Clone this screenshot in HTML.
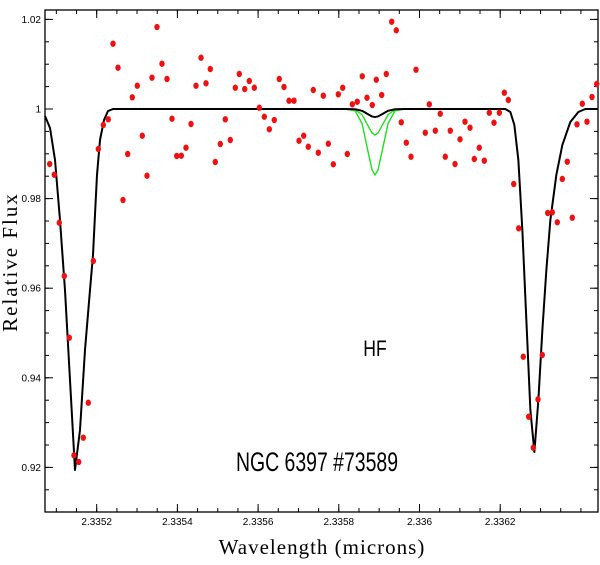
<!DOCTYPE html>
<html><head><meta charset="utf-8"><style>
html,body{margin:0;padding:0;background:#fff;width:600px;height:565px;overflow:hidden}
svg{display:block}
</style></head><body>
<svg id="chart" width="600" height="565" xmlns="http://www.w3.org/2000/svg">
<g id="axes"></g>
<g id="series"></g>
<text x="375" y="356" text-anchor="middle" font-family="Liberation Sans, sans-serif" font-size="22" transform="translate(375,0) scale(0.8,1) translate(-375,0)">HF</text>
<text x="317" y="471" text-anchor="middle" font-family="Liberation Sans, sans-serif" font-size="27" transform="translate(317,0) scale(0.72,1) translate(-317,0)">NGC 6397 #73589</text>
<text x="322" y="554" text-anchor="middle" font-family="Liberation Serif, serif" font-size="21" letter-spacing="1">Wavelength (microns)</text>
<text x="0" y="0" text-anchor="middle" font-family="Liberation Serif, serif" font-size="21" letter-spacing="2" transform="translate(17,262) rotate(-90)">Relative Flux</text>
</svg>
<script>
const xTicks=[2.3352,2.3354,2.3356,2.3358,2.336,2.3362];
const xTickLabels=["2.3352","2.3354","2.3356","2.3358","2.336","2.3362"];
const yTicks=[0.92,0.94,0.96,0.98,1.0,1.02];
const yTickLabels=["0.92","0.94","0.96","0.98","1","1.02"];
const obsWave=[2.3350835,2.3350949,2.3351073,2.3351197,2.3351321,2.3351437,2.3351554,2.3351668,2.3351792,2.3351916,2.335204,2.3352164,2.3352287,2.3352404,2.3352528,2.3352652,2.3352768,2.3352882,2.3353006,2.335313,2.3353247,2.335337,2.3353494,2.3353618,2.3353742,2.3353866,2.3353983,2.3354097,2.3354213,2.3354337,2.3354461,2.3354585,2.3354709,2.3354815,2.3354939,2.3355063,2.3355187,2.3355311,2.3355435,2.3355534,2.3355668,2.3355782,2.3355906,2.335603,2.3356154,2.3356278,2.3356401,2.3356525,2.3356642,2.3356766,2.335689,2.3357014,2.335713,2.3357244,2.3357368,2.3357492,2.3357616,2.335774,2.3357864,2.3357988,2.3358097,2.3358211,2.3358335,2.3358458,2.3358582,2.3358699,2.335883,2.3358929,2.3359063,2.3359177,2.3359311,2.3359425,2.3359549,2.3359673,2.3359789,2.3359913,2.3360144,2.3360243,2.3360392,2.3360515,2.3360639,2.3360763,2.336088,2.3361004,2.3361128,2.3361252,2.3361358,2.3361482,2.3361606,2.336173,2.3361846,2.3361978,2.3362102,2.3362201,2.3362335,2.3362458,2.3362572,2.3362706,2.336282,2.3362937,2.3363043,2.3363177,2.3363291,2.3363415,2.3363539,2.3363663,2.3363787,2.3363903,2.3364035,2.3364151,2.3364275,2.3364392];
const obsFlux=[0.98772,0.98534,0.97462,0.96272,0.94895,0.9227,0.92121,0.92663,0.93444,0.96607,0.99107,0.99643,0.9977,1.01458,1.00922,0.97969,0.98996,1.00261,1.0052,0.99404,0.98511,1.00699,1.0183,1.01011,1.0067,0.99783,0.98951,0.98958,0.99136,0.99665,1.0052,1.01145,1.00574,1.00893,0.98817,0.99219,0.9977,0.99308,1.00475,1.00781,1.00446,1.00625,1.00475,1.00029,0.99828,0.99547,0.99754,1.0067,1.00491,1.00185,1.00185,0.99292,0.99404,0.99158,1.00424,0.99025,1.00297,0.99225,0.98766,1.00328,1.00475,0.98996,1.00105,1.00163,1.0073,1.00252,1.00089,1.00654,1.00312,1.00781,1.01949,1.01757,0.99703,0.99248,0.98935,1.00877,0.99471,1.00105,0.99516,0.99895,0.98935,0.99516,0.98772,0.99324,0.99717,0.99583,0.98884,0.99136,0.98846,0.99917,0.99694,0.99917,1.00364,1.00201,0.98326,0.97337,0.94471,0.93132,0.9244,0.9352,0.94509,0.97679,0.97694,0.97471,0.98438,0.98824,0.97574,0.99658,1.00118,0.99717,1.00268,1.00558];
const modelWave=[2.3350719,2.3350843,2.3350967,2.335109,2.3351214,2.3351338,2.3351462,2.3351586,2.335171,2.3351834,2.3351908,2.3352007,2.3352082,2.3352181,2.335228,2.3352404,2.3358155,2.3358403,2.3358577,2.3358725,2.3358824,2.3358897,2.3358972,2.3359071,2.335922,2.3359393,2.335964,2.3362128,2.3362252,2.3362351,2.336245,2.3362549,2.3362648,2.3362748,2.3362847,2.3362946,2.3363045,2.3363144,2.3363243,2.3363391,2.336354,2.3363738,2.3363937,2.336411,2.3364433];
const modelFlux=[0.99844,0.99576,0.98862,0.97522,0.9596,0.93951,0.91942,0.92835,0.94621,0.9596,0.96741,0.98527,0.99308,0.99754,0.99955,1,1,0.99995,0.9996,0.99884,0.99834,0.9982,0.99834,0.99884,0.9996,0.99995,1,1,0.99933,0.99643,0.98862,0.97299,0.9529,0.93281,0.92344,0.93504,0.95067,0.96406,0.97522,0.98527,0.99196,0.9971,0.99933,1,1];
const hfWave=[2.3358155,2.3358403,2.3358577,2.3358725,2.3358824,2.3358897,2.3358972,2.3359071,2.335922,2.3359393,2.335964];
const hfFluxLow=[1,0.99984,0.99872,0.99625,0.99465,0.9942,0.99465,0.99625,0.99872,0.99984,1];
const hfFluxHigh=[1,0.9996,0.99676,0.99047,0.9864,0.9853,0.9864,0.99047,0.99676,0.9996,1];

const L=45,R=598,T=10,B=512;
const X0=2.3352,XPX0=96.7,XPX_PER=80.7/0.0002;
const YPX1=109,YPX_PER=89.6/0.02;
function xs(v){return XPX0+(v-X0)*XPX_PER;}
function ys(v){return YPX1-(v-1)*YPX_PER;}
const NS="http://www.w3.org/2000/svg";
const axes=document.getElementById('axes');
const series=document.getElementById('series');
function mk(tag,attrs,parent){const e=document.createElementNS(NS,tag);for(const k in attrs)e.setAttribute(k,attrs[k]);parent.appendChild(e);return e;}

const frame=mk('rect',{x:L,y:T,width:R-L,height:B-T,fill:'none',stroke:'#000','stroke-width':1.3},axes);



// x ticks
for(let i=0;i<xTicks.length;i++){
  const x=xs(xTicks[i]);
  const t1=mk('line',{x1:x,x2:x,y1:B,y2:B-8,stroke:'#000','stroke-width':1},axes);
  
  
  const t2=mk('line',{x1:x,x2:x,y1:T,y2:T+8,stroke:'#000','stroke-width':1},axes);
  
  
  const lb=mk('text',{x:x,y:525,'text-anchor':'middle','font-family':'Liberation Sans, sans-serif','font-size':10},axes);
  lb.textContent=xTickLabels[i];
  
  
}
const xStep=0.00005;
for(let v=2.3351;v<2.33645;v+=xStep){
  const x=xs(v);if(x<=L||x>=R)continue;
  const m1=mk('line',{x1:x,x2:x,y1:B,y2:B-4,stroke:'#000','stroke-width':1},axes);
  
  
  const m2=mk('line',{x1:x,x2:x,y1:T,y2:T+4,stroke:'#000','stroke-width':1},axes);
  
  
}
// y ticks
for(let i=0;i<yTicks.length;i++){
  const y=ys(yTicks[i]);
  const t1=mk('line',{x1:L,x2:L+8,y1:y,y2:y,stroke:'#000','stroke-width':1},axes);
  
  
  const t2=mk('line',{x1:R,x2:R-8,y1:y,y2:y,stroke:'#000','stroke-width':1},axes);
  
  
  const lb=mk('text',{x:41,y:y+3.5,'text-anchor':'end','font-family':'Liberation Sans, sans-serif','font-size':10},axes);
  lb.textContent=yTickLabels[i];
  
  
}
for(let v=0.91;v<1.025;v+=0.005){
  const y=ys(v);if(y<=T||y>=B)continue;
  const m1=mk('line',{x1:L,x2:L+4,y1:y,y2:y,stroke:'#000','stroke-width':1},axes);
  
  
  const m2=mk('line',{x1:R,x2:R-4,y1:y,y2:y,stroke:'#000','stroke-width':1},axes);
  
  
}

function pathFrom(w,f){return w.map((v,i)=>(i?'L':'M')+xs(v).toFixed(2)+','+ys(f[i]).toFixed(2)).join(' ');}

const g1=mk('path',{d:pathFrom(hfWave,hfFluxHigh),fill:'none',stroke:'#22dd22','stroke-width':1.4},series);


const g2=mk('path',{d:pathFrom(hfWave,hfFluxLow),fill:'none',stroke:'#22dd22','stroke-width':1.4},series);


const m=mk('path',{d:pathFrom(modelWave,modelFlux),fill:'none',stroke:'#000','stroke-width':2,'stroke-linejoin':'round'},series);



for(let i=0;i<obsWave.length;i++){
  const c=mk('ellipse',{cx:xs(obsWave[i]),cy:ys(obsFlux[i]),rx:2.7,ry:3.2,fill:'#ee1111'},series);
  
  
}
</script>
</body></html>
